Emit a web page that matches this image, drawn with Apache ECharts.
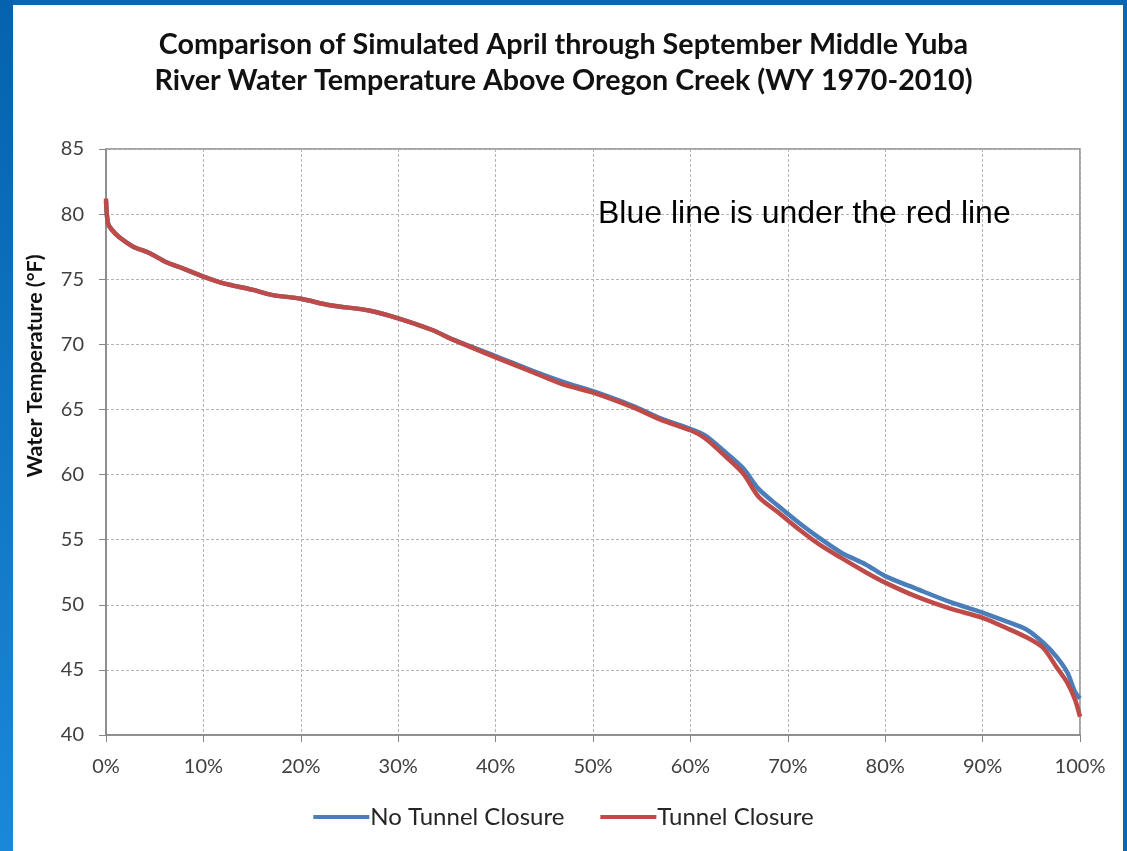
<!DOCTYPE html>
<html>
<head>
<meta charset="utf-8">
<script src="https://cdn.jsdelivr.net/npm/echarts@6/dist/echarts.min.js"></script>
<style>
  html, body { margin: 0; padding: 0; background: #ffffff; }
  #chart { width: 1127px; height: 851px; }
</style>
</head>
<body>
<div id="chart"></div>
<script>
// Exceedance percentage (x) shared by both simulations
const exceedPct = [0, 0.2, 0.6, 1.4, 2.8, 4.5, 6.2, 8, 10, 12, 15, 17, 20, 23, 27, 30, 33.5, 35.5, 40, 44, 47, 50, 54, 57, 60, 61.5, 63.3, 65.4, 67, 69, 71.3, 73.3, 75.5, 78, 80, 83.3, 86.7, 90, 92.5, 94.5, 96.2, 97.6, 98.7, 99.5, 100];

// Water temperature (°F), no tunnel closure
const noTunnelClosure = [81.0, 79.3, 78.8, 78.2, 77.5, 77.0, 76.3, 75.8, 75.2, 74.7, 74.2, 73.8, 73.5, 73.0, 72.6, 72.0, 71.1, 70.4, 69.1, 67.9, 67.1, 66.4, 65.3, 64.3, 63.5, 63.0, 61.9, 60.5, 58.9, 57.6, 56.2, 55.1, 54.0, 53.1, 52.2, 51.2, 50.2, 49.4, 48.7, 48.1, 47.1, 46.0, 44.8, 43.3, 42.8];

// Water temperature (°F), tunnel closure
const tunnelClosure = [81.2, 79.3, 78.8, 78.2, 77.5, 77.0, 76.3, 75.8, 75.2, 74.7, 74.2, 73.8, 73.5, 73.0, 72.6, 72.0, 71.1, 70.4, 69.0, 67.8, 66.9, 66.3, 65.2, 64.2, 63.4, 62.8, 61.6, 60.1, 58.3, 57.1, 55.7, 54.6, 53.6, 52.5, 51.7, 50.6, 49.7, 49.0, 48.2, 47.5, 46.7, 45.2, 44.0, 42.7, 41.4];

const titleLines = ['Comparison of Simulated April through September Middle Yuba', 'River Water Temperature Above Oregon Creek (WY 1970-2010)'];
const yAxisTitle = 'Water Temperature (°F)';
const noteText = 'Blue line is under the red line';

const pair = (xs, ys) => xs.map((x, i) => [x, ys[i]]);

const chart = echarts.init(document.getElementById('chart'));
const axisGray = '#868686';
const gridDash = { color: '#b4b4b4', type: [3, 2], width: 1 };
const labelFont = { color: '#404040', fontSize: 20, fontFamily: 'Lato, Open Sans, sans-serif' };

chart.setOption({
  backgroundColor: '#ffffff',
  animation: false,
  title: {
    text: titleLines.join('\n'),
    left: 'center',
    top: 22,
    textStyle: {
      fontFamily: 'Lato, Open Sans, sans-serif',
      fontWeight: 'bold',
      fontSize: 28.7,
      lineHeight: 36,
      color: '#111111'
    }
  },
  legend: {
    bottom: 17,
    left: 'center',
    itemWidth: 56,
    itemHeight: 4,
    itemGap: 36,
    icon: 'rect',
    textStyle: { color: '#262626', fontSize: 24, fontFamily: 'Lato, Open Sans, sans-serif', padding: [0, 0, 0, -4] },
    data: ['No Tunnel Closure', 'Tunnel Closure']
  },
  grid: {
    left: 106, right: 47, top: 149, bottom: 116,
    show: true, borderColor: axisGray, borderWidth: 1.5,
    containLabel: false
  },
  xAxis: {
    type: 'value',
    min: 0, max: 100, interval: 10,
    axisLine: { show: true, lineStyle: { color: axisGray, width: 1.5 } },
    axisTick: { show: true, length: 7, lineStyle: { color: axisGray } },
    axisLabel: Object.assign({ formatter: '{value}%', margin: 22 }, labelFont),
    splitLine: { show: true, lineStyle: gridDash }
  },
  yAxis: {
    type: 'value',
    min: 40, max: 85, interval: 5,
    axisLine: { show: true, lineStyle: { color: axisGray, width: 1.5 } },
    axisTick: { show: true, length: 7, lineStyle: { color: axisGray } },
    axisLabel: Object.assign({ margin: 22 }, labelFont),
    splitLine: { show: true, lineStyle: gridDash }
  },
  series: [
    {
      name: 'No Tunnel Closure',
      type: 'line',
      data: pair(exceedPct, noTunnelClosure),
      showSymbol: false,
      smooth: 0.3,
      color: '#4a7ebb',
      lineStyle: { width: 4.5, color: '#4a7ebb' }
    },
    {
      name: 'Tunnel Closure',
      type: 'line',
      data: pair(exceedPct, tunnelClosure),
      showSymbol: false,
      smooth: 0.3,
      color: '#be4b48',
      lineStyle: { width: 4.5, color: '#be4b48' }
    }
  ],
  graphic: [
    // slide frame
    { type: 'rect', shape: { x: 0, y: 0, width: 1127, height: 5 }, style: { fill: '#0866b2' }, z: 100 },
    { type: 'rect', shape: { x: 1123, y: 0, width: 4, height: 851 }, style: { fill: '#0866b2' }, z: 100 },
    {
      type: 'rect', shape: { x: 0, y: 0, width: 13, height: 851 }, z: 100,
      style: {
        fill: new echarts.graphic.LinearGradient(0, 0, 0, 1, [
          { offset: 0, color: '#0562ae' },
          { offset: 1, color: '#1a88d8' }
        ])
      }
    },
    // vertical axis title
    {
      type: 'text', x: 35, y: 366, rotation: Math.PI / 2, z: 50,
      style: {
        text: yAxisTitle, fontSize: 21.4, fontWeight: 'bold', fill: '#111111',
        fontFamily: 'Lato, Open Sans, sans-serif', align: 'center', verticalAlign: 'middle'
      }
    },
    // annotation
    {
      type: 'text', x: 598, y: 214, z: 50,
      style: {
        text: noteText, fontSize: 32, fontFamily: 'Liberation Sans, Arial, sans-serif',
        fill: '#000000', align: 'left', verticalAlign: 'middle'
      }
    }
  ]
});
</script>
</body>
</html>
